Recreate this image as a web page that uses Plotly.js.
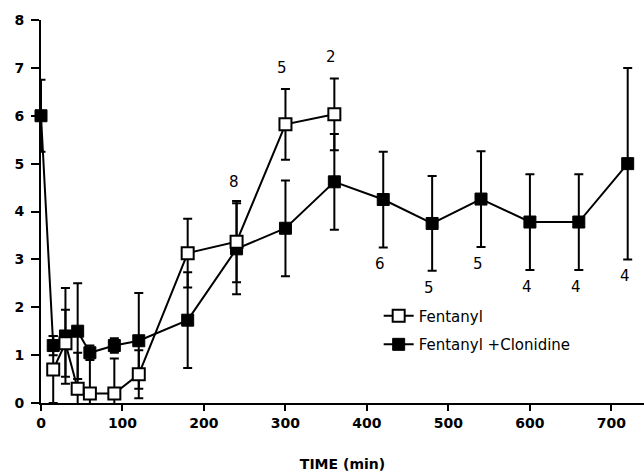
<!DOCTYPE html>
<html>
<head>
<meta charset="utf-8">
<script src="https://cdn.plot.ly/plotly-3.0.1.min.js"></script>
<style>html,body{margin:0;padding:0;background:#fff;}#chart{width:644px;height:474px;}</style>
</head>
<body>
<div id="chart"></div>
<script>
// Fentanyl (open squares)
const fentTime = [15, 30, 45, 60, 90, 120, 180, 240, 300, 360];
const fentVal  = [0.7, 1.25, 0.3, 0.2, 0.2, 0.6, 3.13, 3.37, 5.82, 6.03];
const fentErr  = [0.7, 0.7, 0.75, 0.85, 0.73, 0.5, 0.72, 0.85, 0.74, 0.75];

// Fentanyl + Clonidine (filled squares)
const clonTime = [0, 15, 30, 45, 60, 90, 120, 180, 240, 300, 360, 420, 480, 540, 600, 660, 720];
const clonVal  = [6.0, 1.2, 1.4, 1.5, 1.05, 1.2, 1.3, 1.73, 3.22, 3.65, 4.62, 4.25, 3.75, 4.26, 3.78, 3.78, 5.0];
const clonErr  = [0.75, 0.2, 1.0, 1.0, 0.15, 0.15, 1.0, 1.0, 0.95, 1.0, 1.0, 1.0, 0.99, 1.0, 1.0, 1.0, 2.0];

// n labels: series, time, text, side
const nSeries = ['fent', 'fent', 'clon', 'clon', 'clon', 'clon', 'clon', 'clon', 'clon'];
const nTime   = [300, 360, 240, 420, 480, 540, 600, 660, 720];
const nText   = ['5', '2', '8', '6', '5', '5', '4', '4', '4'];
const nSide   = ['above', 'above', 'above', 'below', 'below', 'below', 'below', 'below', 'below'];

const xTicks = [0, 100, 200, 300, 400, 500, 600, 700];
const yTicks = [0, 1, 2, 3, 4, 5, 6, 7, 8];

const FONT = 'DejaVu Sans, Liberation Sans, Arial, sans-serif';

const errStyle = {type: 'data', visible: true, color: '#000', thickness: 2, width: 4.5};

const traces = [
  {
    x: clonTime, y: clonVal, name: 'Fentanyl +Clonidine', type: 'scatter', mode: 'lines+markers',
    line: {color: '#000', width: 2},
    marker: {symbol: 'square', size: 12, color: '#000', line: {color: '#000', width: 1}},
    error_y: Object.assign({array: clonErr}, errStyle),
    legendrank: 2, legendgroup: 'b', cliponaxis: false
  },
  {
    x: fentTime, y: fentVal, name: 'Fentanyl', type: 'scatter', mode: 'lines+markers',
    line: {color: '#000', width: 2},
    marker: {symbol: 'square', size: 12, color: '#fff', line: {color: '#000', width: 2}},
    error_y: Object.assign({array: fentErr}, errStyle),
    legendrank: 1, legendgroup: 'a', cliponaxis: false
  }
];

const annotations = nText.map((t, i) => {
  const isF = nSeries[i] === 'fent';
  const xs = isF ? fentTime : clonTime;
  const vs = isF ? fentVal : clonVal;
  const es = isF ? fentErr : clonErr;
  const k = xs.indexOf(nTime[i]);
  const above = nSide[i] === 'above';
  return {
    x: nTime[i], y: above ? vs[k] + es[k] : vs[k] - es[k],
    xref: 'x', yref: 'y', text: t, showarrow: false,
    yanchor: above ? 'bottom' : 'top', yshift: above ? 10 : -6,
    xshift: -3,
    font: {family: FONT, size: 15, color: '#000'}
  };
});

const layout = {
  width: 644, height: 474,
  margin: {l: 41, r: 0, t: 20, b: 71, pad: 0},
  paper_bgcolor: '#fff', plot_bgcolor: '#fff',
  showlegend: true,
  legend: {
    x: 0.56, y: 0.27, xanchor: 'left', yanchor: 'top',
    bgcolor: 'rgba(0,0,0,0)', borderwidth: 0,
    font: {family: FONT, size: 15, color: '#000'},
    traceorder: 'grouped', tracegroupgap: 6
  },
  xaxis: {
    range: [0, 740], tickvals: xTicks, ticktext: xTicks.map(String),
    showgrid: false, zeroline: false, showline: true, linecolor: '#000', linewidth: 2,
    ticks: 'outside', ticklen: 6, tickwidth: 2, tickcolor: '#000',
    tickfont: {family: FONT, size: 14, color: '#000', weight: 'bold'},
    title: {text: 'TIME (min)', standoff: 29, font: {family: FONT, size: 14, color: '#000', weight: 'bold'}},
    automargin: false
  },
  yaxis: {
    range: [0, 8], tickvals: yTicks, ticktext: yTicks.map(String),
    showgrid: false, zeroline: false, showline: true, linecolor: '#000', linewidth: 2,
    ticks: 'outside', ticklen: 8, tickwidth: 2, tickcolor: '#000',
    ticklabelstandoff: 4,
    tickfont: {family: FONT, size: 14, color: '#000', weight: 'bold'},
    automargin: false
  },
  annotations: annotations
};

Plotly.newPlot('chart', traces, layout, {displayModeBar: false, staticPlot: true});
</script>
</body>
</html>
